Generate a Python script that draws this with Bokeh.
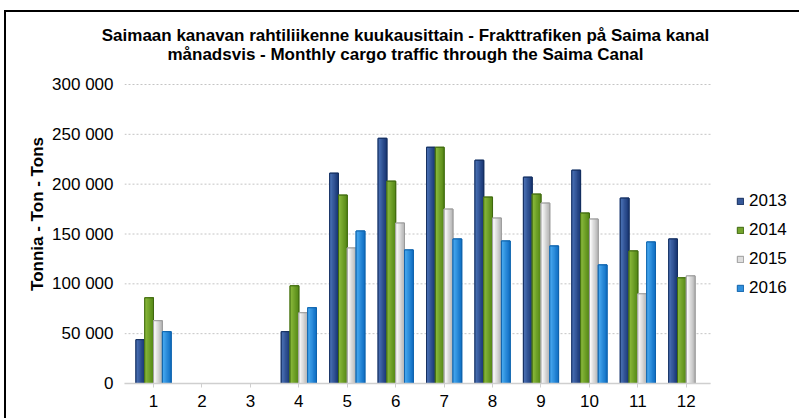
import math
from bokeh.plotting import figure
from bokeh.models import (Range1d, FixedTicker, Legend, LegendItem, Label, ColumnDataSource)
from bokeh.embed import file_html
from bokeh.resources import INLINE

nan = float("nan")

# ---------------- data ----------------
months = [1, 2, 3, 4, 5, 6, 7, 8, 9, 10, 11, 12]
month_labels = ["1", "2", "3", "4", "5", "6", "7", "8", "9", "10", "11", "12"]
series_names = ["2013", "2014", "2015", "2016"]
y2013 = [44000, nan, nan, 52000, 211000, 246000, 237000, 224000, 207000, 214000, 186000, 145000]
y2014 = [86000, nan, nan, 98000, 189000, 203000, 237000, 187000, 190000, 171000, 133000, 106000]
y2015 = [63000, nan, nan, 71000, 136000, 161000, 175000, 166000, 181000, 165000, 90000, 108000]
y2016 = [52000, nan, nan, 76000, 153000, 134000, 145000, 143000, 138000, 119000, 142000, nan]
y_ticks = [0, 50000, 100000, 150000, 200000, 250000, 300000]
y_tick_labels = ["0", "50 000", "100 000", "150 000", "200 000", "250 000", "300 000"]
title_line1 = "Saimaan kanavan rahtiliikenne kuukausittain - Frakttrafiken på Saima kanal"
title_line2 = "månadsvis - Monthly cargo traffic through the Saima Canal"
y_title = "Tonnia - Ton - Tons"

series_values = [y2013, y2014, y2015, y2016]

# ---------------- style / geometry ----------------
FONT = "Liberation Sans"
FS = "17px"
OX, OY = 6, 12            # canvas origin on the page (after css margin + border)
RIGHT = 805               # page x where the canvas ends (chart box continues past the window)
W, H = RIGHT - OX, 420 - OY
PLOT_L, PLOT_R, PLOT_T, PLOT_B = 124, 710, 84, 383   # page px of the plot area
FRAME_T = 44              # page y of the top of bokeh's frame (title line 1 sits above)
X_LO, X_HI = 0.4, 12.5
Y_LO, Y_HI = 0, 300000
ppx = (PLOT_R - PLOT_L) / (X_HI - X_LO)
ppy = (PLOT_B - PLOT_T) / (Y_HI - Y_LO)
x_end = X_HI + (RIGHT - PLOT_R) / ppx
y_end = Y_HI + (PLOT_T - FRAME_T) / ppy
TITLE_CX = 405
TITLE1_W = 607.5

offsets = [-0.273, -0.091, 0.091, 0.273]
bar_w = 0.18
n_strips = 6
palette = [
    ("#4d74b8", "#1e3c7a", "#142e5e"),   # 2013
    ("#8cbc3e", "#5a8c1a", "#3f6810"),   # 2014
    ("#ffffff", "#bcbcbc", "#9a9a9a"),   # 2015
    ("#4aacf2", "#1674c8", "#0f62aa"),   # 2016
]


def mix(c1, c2, t):
    a = [int(c1[i:i + 2], 16) for i in (1, 3, 5)]
    b = [int(c2[i:i + 2], 16) for i in (1, 3, 5)]
    return "#%02x%02x%02x" % tuple(round(a[k] + (b[k] - a[k]) * t) for k in range(3))


p = figure(width=W, height=H, output_backend="svg", toolbar_location=None,
           x_range=Range1d(X_LO, x_end), y_range=Range1d(Y_LO, y_end),
           min_border_left=PLOT_L - OX, min_border_right=0,
           min_border_top=FRAME_T - OY, min_border_bottom=420 - PLOT_B,
           title=title_line1, title_location="above",
           styles={"margin-left": "4px", "margin-top": "10px",
                   "border-left": "2px solid black", "border-top": "2px solid black"})
p.background_fill_color = "white"
p.border_fill_color = "white"
p.outline_line_color = None
p.xgrid.visible = False
p.ygrid.visible = False

# title line 1 (in the panel above the frame)
p.title.align = "left"
p.title.offset = TITLE_CX - TITLE1_W / 2 - PLOT_L
p.title.standoff = 0
p.title.vertical_align = "bottom"
p.title.text_font = FONT
p.title.text_font_size = FS
p.title.text_font_style = "bold"
p.title.text_color = "black"

# dotted horizontal gridlines across the plot area
p.segment(x0=[X_LO] * len(y_ticks), x1=[X_HI] * len(y_ticks), y0=y_ticks, y1=y_ticks,
          line_color="#c4c4c4", line_dash="2 2", line_width=1)

legend_items = []
for i, (name, vals) in enumerate(zip(series_names, series_values)):
    left_c, right_c, edge_c = palette[i]
    off = offsets[i]
    xs = [m + off for m in months]
    src = ColumnDataSource(dict(x=xs, top=vals))
    main = p.vbar(x="x", top="top", width=bar_w, source=src,
                  fill_color=mix(left_c, right_c, 0.5), line_color=edge_c, line_width=1)
    sw = bar_w / n_strips
    for k in range(n_strips):
        t = k / (n_strips - 1)
        col = mix(left_c, right_c, t)
        sxs = [m + off - bar_w / 2 + (k + 0.5) * sw for m in months]
        ssrc = ColumnDataSource(dict(x=sxs, top=vals))
        p.vbar(x="x", top="top", width=sw, source=ssrc,
               fill_color=col, line_color=col, line_width=0.7)
    p.vbar(x="x", top="top", width=bar_w, source=src,
           fill_color=None, line_color=edge_c, line_width=1)
    legend_items.append(LegendItem(label=name, renderers=[main]))

# axes
p.xaxis.ticker = FixedTicker(ticks=months)
p.xaxis.major_label_overrides = {m: lab for m, lab in zip(months, month_labels)}
p.xaxis.bounds = (X_LO, X_HI)
p.xaxis.axis_line_color = "#cfcfcf"
p.xaxis.axis_line_width = 1.5
p.xaxis.major_tick_line_color = "#cfcfcf"
p.xaxis.major_tick_out = 4
p.xaxis.major_tick_in = 0
p.xaxis.minor_tick_line_color = None
p.xaxis.major_label_standoff = 7

p.yaxis.ticker = FixedTicker(ticks=y_ticks)
p.yaxis.major_label_overrides = {v: lab for v, lab in zip(y_ticks, y_tick_labels)}
p.yaxis.axis_line_color = None
p.yaxis.major_tick_line_color = None
p.yaxis.minor_tick_line_color = None
p.yaxis.major_tick_out = 0
p.yaxis.major_label_standoff = 11
p.yaxis.axis_label = y_title
p.yaxis.axis_label_text_font = FONT
p.yaxis.axis_label_text_font_size = FS
p.yaxis.axis_label_text_font_style = "bold"
p.yaxis.axis_label_text_color = "black"
p.yaxis.axis_label_standoff = 2

for ax in (p.xaxis, p.yaxis):
    ax.major_label_text_font = FONT
    ax.major_label_text_font_size = FS
    ax.major_label_text_color = "black"

# title line 2 (inside the frame, positions relative to the frame bottom)
p.add_layout(Label(x=TITLE_CX - PLOT_L, y=PLOT_B - 53.5, x_units="screen", y_units="screen",
                   text=title_line2, text_font=FONT, text_font_size=FS,
                   text_font_style="bold", text_align="center", text_baseline="middle",
                   text_color="black"))

# legend
legend = Legend(items=legend_items, location=(736 - PLOT_L, PLOT_B - 298),
                orientation="vertical",
                glyph_width=8, glyph_height=8, label_standoff=5, label_height=20,
                spacing=9, padding=0, margin=0, border_line_color=None,
                background_fill_alpha=0, label_text_font=FONT,
                label_text_font_size=FS, label_text_color="black")
p.add_layout(legend, "center")

open("out.html", "w").write(file_html(p, INLINE))
